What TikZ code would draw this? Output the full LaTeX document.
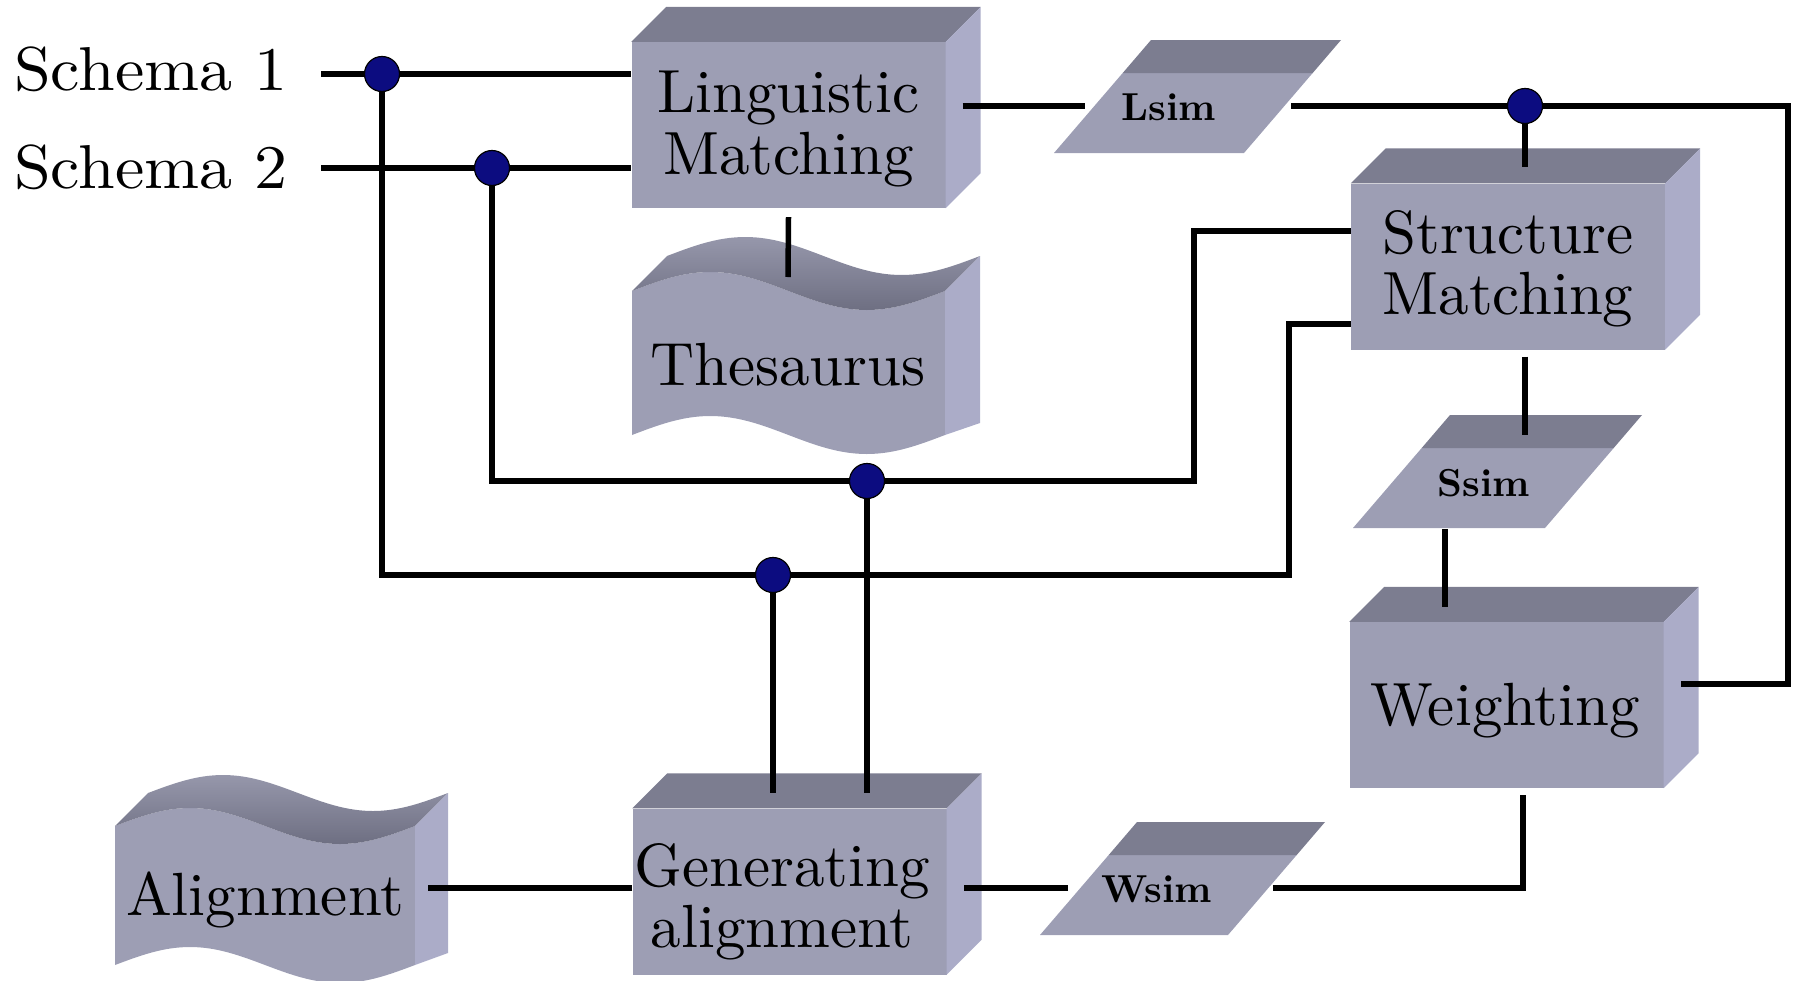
\documentclass[tikz,border=0pt]{standalone}
\usepackage{graphicx}
\definecolor{frontc}{HTML}{9D9EB4}
\definecolor{topc}{HTML}{7C7D90}
\definecolor{sidec}{HTML}{ABACC8}
\definecolor{tapetopA}{HTML}{9697AB}
\definecolor{tapetopB}{HTML}{6E6F82}
\definecolor{dotc}{HTML}{0C0C80}

% large serif text, optionally on several centred lines
\newcommand\bigtxt[1]{\scalebox{6.1}{\fontsize{10}{10}\selectfont\begin{tabular}[t]{@{}c@{}}#1\end{tabular}}}
% the two input labels, set a little wider
\newcommand\inputtxt[1]{\scalebox{6.6}[6.2]{\fontsize{10}{10}\selectfont #1}}
% bold labels of the similarity stores
\newcommand\simtxt[1]{\scalebox{3.9}{\fontsize{10}{12}\selectfont\bfseries #1}}

% wavy "tape" solid: x0, top line, bottom line, width, depth, amplitude
\newcommand\tapesolid[6]{%
  \fill[frontc] (#1,#2) sin ({#1+#4/4},{#2-#6}) cos ({#1+#4/2},#2) sin ({#1+3*#4/4},{#2+#6}) cos ({#1+#4},#2)
     -- ({#1+#4},#3) sin ({#1+3*#4/4},{#3+#6}) cos ({#1+#4/2},#3) sin ({#1+#4/4},{#3-#6}) cos (#1,#3) -- cycle;
  \shade[top color=tapetopA, bottom color=tapetopB]
     (#1,#2) sin ({#1+#4/4},{#2-#6}) cos ({#1+#4/2},#2) sin ({#1+3*#4/4},{#2+#6}) cos ({#1+#4},#2)
     -- ({#1+#4+#5},{#2-#5}) sin ({#1+3*#4/4+#5},{#2-#5+#6}) cos ({#1+#4/2+#5},{#2-#5})
     sin ({#1+#4/4+#5},{#2-#5-#6}) cos ({#1+#5},{#2-#5}) -- cycle;
  \fill[sidec] ({#1+#4},#2) -- ({#1+#4+#5},{#2-#5}) -- ({#1+#4+#5},{#3-12}) -- ({#1+#4},#3) -- cycle;
}

% slanted store: bottom-left x, bottom y, width
\newcommand\storeshape[3]{%
  \fill[frontc] (#1,#2) -- ({#1+#3},#2) -- ({#1+#3+68.7},{#2-80}) -- ({#1+68.7},{#2-80}) -- cycle;
  \fill[topc] ({#1+68.7},{#2-80}) -- ({#1+#3+68.7},{#2-80}) -- ({#1+#3+97},{#2-113}) -- ({#1+97},{#2-113}) -- cycle;
}

\begin{document}
\begin{tikzpicture}[x=1pt,y=-1pt,
  cubebox/.style={fill=frontc, minimum width=314pt, minimum height=166pt, inner sep=0pt},
  txt/.style={inner sep=0pt, anchor=base},
  simlabel/.style={inner sep=0pt},
  wire/.style={line width=5.5pt, black},
  jdot/.style={circle, fill=dotc, draw=black, line width=1.2pt, minimum size=35pt, inner sep=0pt}]
\useasboundingbox (0,0) rectangle (1796,980);

% ---- solids ----
\tapesolid{632}{291}{435}{313}{35}{19}
\tapesolid{115}{826}{965}{300}{33}{18}

\storeshape{1054}{153}{190}
\storeshape{1353}{528}{192}
\storeshape{1040}{935}{188}

\node[cubebox] (lm) at (788.5,125) {};
\node[cubebox] (sm) at (1508,266.5) {};
\node[cubebox] (wt) at (1506.5,705) {};
\node[cubebox] (ga) at (789.5,891.5) {};
\foreach \n in {lm,sm,wt,ga}{
  \fill[topc] (\n.north west) -- ([shift={(35pt,35pt)}]\n.north west)
     -- ([shift={(35pt,35pt)}]\n.north east) -- (\n.north east) -- cycle;
  \fill[sidec] (\n.north east) -- ([shift={(35pt,35pt)}]\n.north east)
     -- ([shift={(35pt,35pt)}]\n.south east) -- (\n.south east) -- cycle;
}

% ---- texts ----
\node[txt, anchor=base west] (s1) at (14,90) {\inputtxt{Schema 1}};
\node[txt, anchor=base west] (s2) at (14,188) {\inputtxt{Schema 2}};
\node[txt] (lmt) at (788.5,112) {\bigtxt{Linguistic\\[0.3pt]Matching}};
\node[txt] (smt) at (1508,253) {\bigtxt{Structure\\Matching}};
\node[txt] (wtt) at (1505,725) {\bigtxt{Weighting}};
\node[txt] (gat) at (782,886) {\bigtxt{Generating\\alignment}};
\node[txt] (th) at (788,385) {\bigtxt{Thesaurus}};
\node[txt] (al) at (265,915) {\bigtxt{Alignment}};
\node[simlabel] (ls) at (1169,107) {\simtxt{Lsim}};
\node[simlabel] (ss) at (1484,483) {\simtxt{Ssim}};
\node[simlabel] (ws) at (1157,889) {\simtxt{Wsim}};

% ---- junctions and wire ends ----
\coordinate (j1) at (382,74);
\coordinate (j2) at (492,168);
\coordinate (j3) at (867,481);
\coordinate (j4) at (773,575);
\coordinate (j5) at (1525,106);
\coordinate (s1e) at (321,74);
\coordinate (s2e) at (321,168);
\coordinate (k1) at (1194,231);
\coordinate (k2) at (1289,324);
\coordinate (gatop) at ([yshift=15pt]ga.north);
\coordinate (thtop) at (788,277);
\coordinate (lmR) at ([shift={(17pt,19pt)}]lm.east);
\coordinate (lsL) at (1085,106);
\coordinate (lsR) at (1291,106);
\coordinate (rc) at (1788,106);
\coordinate (wtR) at ([shift={(17pt,21pt)}]wt.east);
\coordinate (smtop) at ([yshift=16pt]sm.north);
\coordinate (smB) at ([shift={(17pt,-7pt)}]sm.south);
\coordinate (ssT) at (1525,435);
\coordinate (ssB) at (1445,529);
\coordinate (wtT) at ([shift={(-61.5pt,15pt)}]wt.north);
\coordinate (wtB) at ([shift={(16.5pt,-7pt)}]wt.south);
\coordinate (wsR) at (1273,888);
\coordinate (wsL) at (1068,888);
\coordinate (gaR) at ([shift={(17pt,3.5pt)}]ga.east);
\coordinate (gaL) at ([yshift=3.5pt]ga.west);
\coordinate (alR) at (428,888);

% ---- wires ----
\draw[wire] (s1e) -- (j1) -- (j1 -| lm.west);
\draw[wire] (s2e) -- (j2) -- (j2 -| lm.west);
\draw[wire] (j1) |- (j4) -| (k2) -- (k2 -| sm.west);
\draw[wire] (j2) |- (j3) -| (k1) -- (k1 -| sm.west);
\draw[wire] (j4) -- (j4 |- gatop);
\draw[wire] (j3) -- (j3 |- gatop);
\draw[wire] ([yshift=-9pt]lm.south) -- (thtop);
\draw[wire] (lmR) -- (lsL);
\draw[wire] (lsR) -- (j5) -- (rc) |- (wtR);
\draw[wire] (j5) -- (j5 |- smtop);
\draw[wire] (smB) -- (ssT);
\draw[wire] (ssB) -- (wtT);
\draw[wire] (wtB) |- (wsR);
\draw[wire] (wsL) -- (gaR);
\draw[wire] (gaL) -- (alR);

% ---- junction dots ----
\foreach \j in {j1,j2,j3,j4,j5}{ \node[jdot] (d\j) at (\j) {}; }
\end{tikzpicture}
\end{document}
